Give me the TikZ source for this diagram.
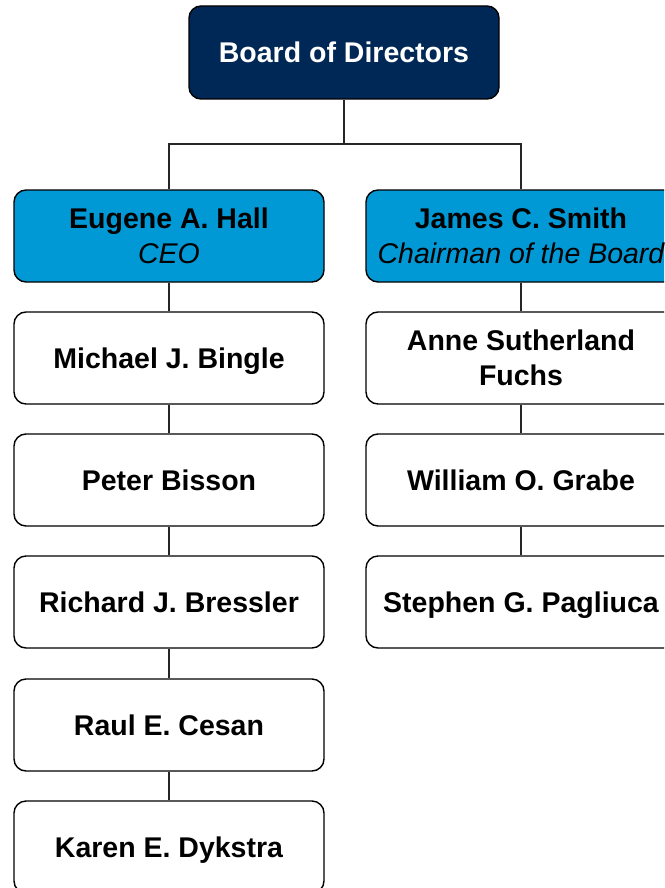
\documentclass[tikz,border=0pt]{standalone}
\usepackage{fontspec}
\setmainfont{Liberation Sans}
\definecolor{navy}{HTML}{002856}
\definecolor{cyanbox}{HTML}{0099D6}
\begin{document}
\begin{tikzpicture}[x=1pt,y=-1pt,
  box/.style={draw=black, line width=1.4pt, rounded corners=12pt, minimum width=310pt, minimum height=92pt, align=center, inner sep=0pt, font=\bfseries\fontsize{28.5}{34.5}\selectfont, fill=white},
  oneline/.style={box, text height=20.5pt, text depth=0pt},
  topbox/.style={oneline, fill=navy, text=white, minimum height=93pt},
  headbox/.style={box, fill=cyanbox},
  link/.style={draw=black!85, line width=1.3pt}]
\useasboundingbox (0,0) rectangle (664,888);
\clip (0,0) rectangle (664,888);
\node[topbox] (board) at (344,52.5) {Board of Directors};
\node[headbox] (hall) at (169,236) {Eugene A. Hall\\{\mdseries\itshape CEO}};
\node[headbox] (smith) at (521,236) {James C. Smith\\{\mdseries\itshape Chairman of the Board}};
\node[oneline] (bingle) at (169,358) {Michael J. Bingle};
\node[oneline] (bisson) at (169,480) {Peter Bisson};
\node[oneline] (bressler) at (169,602) {Richard J. Bressler};
\node[oneline] (cesan) at (169,725) {Raul E. Cesan};
\node[oneline] (dykstra) at (169,847) {Karen E. Dykstra};
\node[box] (fuchs) at (521,358) {Anne Sutherland\\Fuchs};
\node[oneline] (grabe) at (521,480) {William O. Grabe};
\node[oneline] (pagliuca) at (521,602) {Stephen G. Pagliuca};
\coordinate (j) at (344,144);
\draw[link] (board.south) -- (j);
\draw[link] (hall.north) |- (j);
\draw[link] (j) -| (smith.north);
\draw[link] (hall) -- (bingle);
\draw[link] (bingle) -- (bisson);
\draw[link] (bisson) -- (bressler);
\draw[link] (bressler) -- (cesan);
\draw[link] (cesan) -- (dykstra);
\draw[link] (smith) -- (fuchs);
\draw[link] (fuchs) -- (grabe);
\draw[link] (grabe) -- (pagliuca);
\end{tikzpicture}
\end{document}
